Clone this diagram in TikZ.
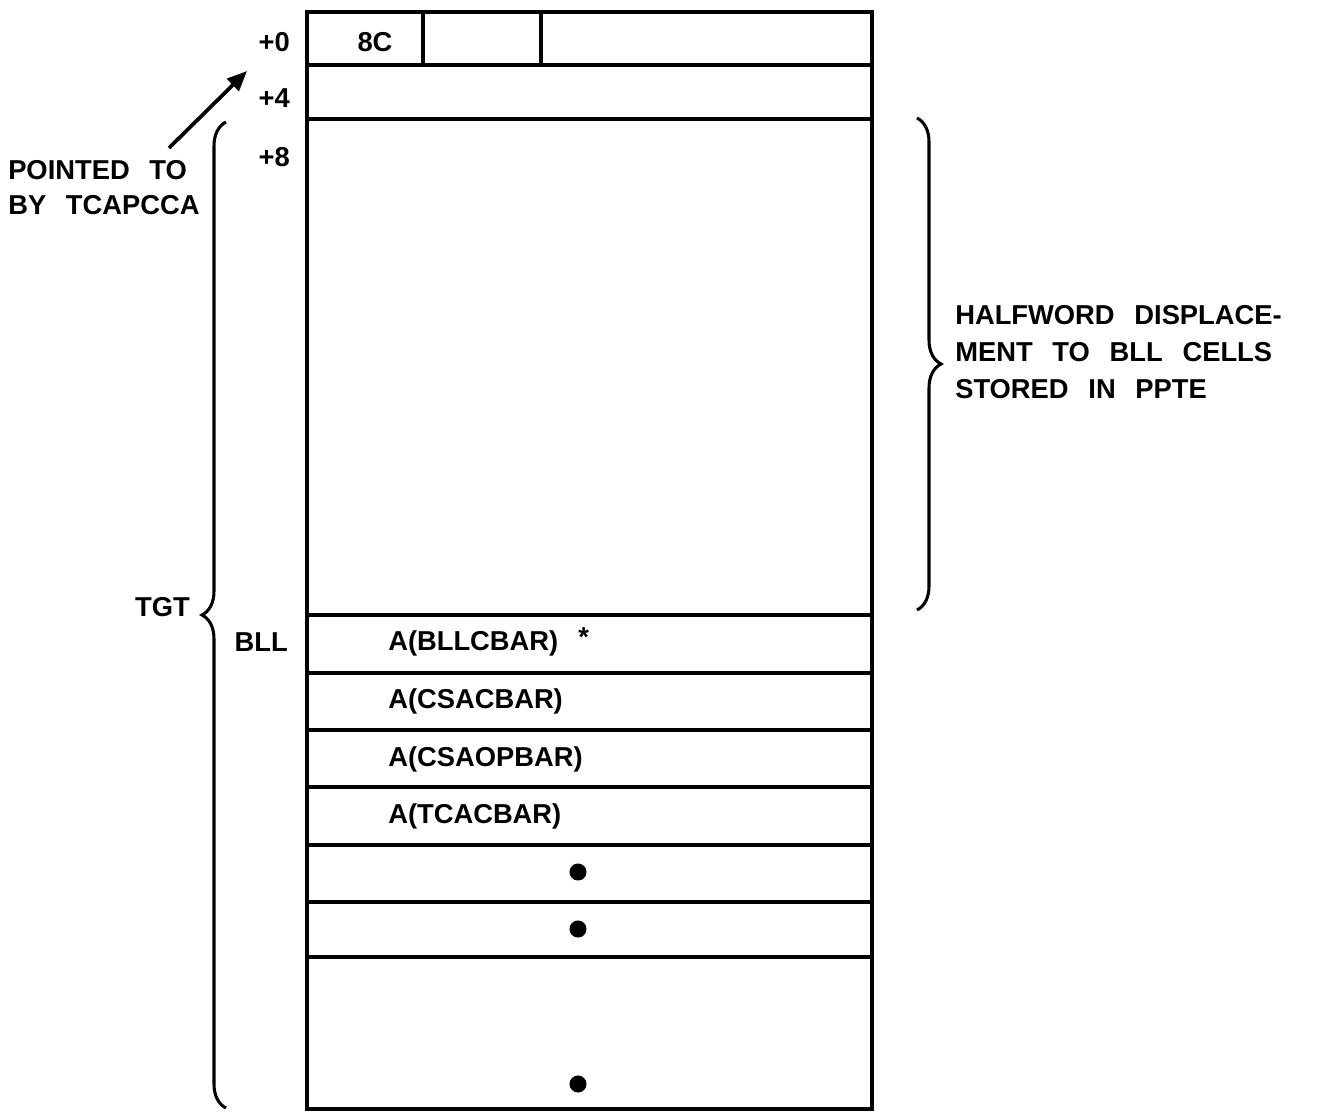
\documentclass[tikz,border=0pt]{standalone}
\usepackage{fontspec}
\setmainfont[WordSpace=2.6]{Liberation Sans}
\usetikzlibrary{arrows.meta,decorations.pathreplacing}
\begin{document}
\begin{tikzpicture}[x=0.75pt,y=-0.75pt,
  ln/.style={line width=2.3pt},
  lbl/.style={font=\fontsize{20.5}{26}\selectfont\bfseries, inner sep=0pt, text height=14.7pt, text depth=0pt},
  mlbl/.style={font=\fontsize{20.5}{26.25}\selectfont\bfseries, inner sep=0pt, align=left},
  nlbl/.style={font=\fontsize{20.5}{27.75}\selectfont\bfseries, inner sep=0pt, align=left},
  bigdot/.style={circle, fill=black, inner sep=0pt, minimum size=12.8pt},
  bracestyle/.style={line width=2.3pt, decorate, decoration={brace, amplitude=18pt}},
  ptr/.style={line width=2.8pt, -{Triangle[length=15pt,width=12.5pt]}}]
\useasboundingbox (0,0) rectangle (1323,1117);
% record box
\draw[ln] (307,12) rectangle (872,1109);
\foreach \yy in {65,119,615,673,730,787,845,902,957}
  \draw[ln] (307,\yy) -- (872,\yy);
\draw[ln] (423,12) -- (423,65);
\draw[ln] (541,12) -- (541,65);
% texts inside
\node[lbl] (c8) at (375,42) {8C};
\node[lbl, anchor=west] (r1) at (388,641) {A(BLLCBAR)\hspace{15pt}\raisebox{3pt}{*}};
\node[lbl, anchor=west] (r2) at (388,699) {A(CSACBAR)};
\node[lbl, anchor=west] (r3) at (388,757) {A(CSAOPBAR)};
\node[lbl, anchor=west] (r4) at (388,814) {A(TCACBAR)};
\node[bigdot] (d1) at (578,872) {};
\node[bigdot] (d2) at (578,929) {};
\node[bigdot] (d3) at (578,1084) {};
% offsets
\node[lbl, anchor=east] (o0) at (290,42) {+0};
\node[lbl, anchor=east] (o4) at (290,98) {+4};
\node[lbl, anchor=east] (o8) at (290,157) {+8};
\node[lbl, anchor=east] (bll) at (288,642) {BLL};
\node[lbl, anchor=east] (tgt) at (190,607) {TGT};
% pointer label and arrow
\node[mlbl, anchor=west] (ptd) at (8,188) {POINTED TO\\BY TCAPCCA};
\coordinate (tail) at (169,148);
\coordinate (head) at (247,71);
\draw[ptr] (tail) -- (head);
% braces
\coordinate (lb1) at (226,1108);
\coordinate (lb2) at (226,122);
\draw[bracestyle] (lb1) -- (lb2);
\coordinate (rb1) at (917,118);
\coordinate (rb2) at (917,610);
\draw[bracestyle] (rb1) -- (rb2);
\node[nlbl, anchor=west] (note) at (955,352) {HALFWORD DISPLACE-\\MENT TO BLL CELLS\\STORED IN PPTE};
\end{tikzpicture}
\end{document}
